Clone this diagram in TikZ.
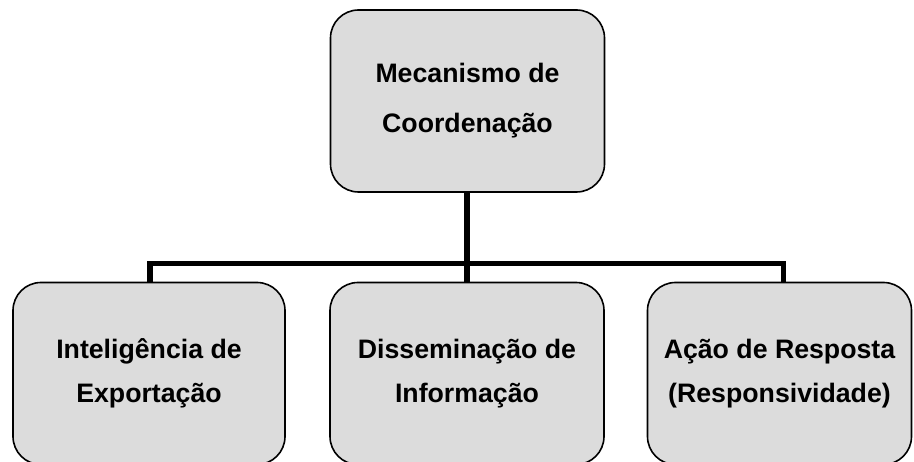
\documentclass[tikz,border=0pt]{standalone}
\usepackage{fontspec}
\setmainfont{Liberation Sans}
\usetikzlibrary{backgrounds}
\definecolor{boxfill}{RGB}{220,220,220}
\tikzset{
  box/.style={draw=black, line width=1.6pt, fill=boxfill, rounded corners=28pt,
    align=center, inner sep=0pt, font=\bfseries\fontsize{26.7}{44}\selectfont},
  conn/.style={line width=5.5pt, line cap=rect}
}
\begin{document}
\begin{tikzpicture}[x=1pt,y=-1pt]
\useasboundingbox (0,0) rectangle (914,462);
\clip (0,0) rectangle (914,462);
\coordinate (bus) at (467,263.5);
\node[box, minimum width=274pt, minimum height=182pt, font=\bfseries\fontsize{26.7}{50}\selectfont] (top) at (467.5,101) {Mecanismo de\\Coordenação};
\node[box, minimum width=272pt, minimum height=182pt] (left) at (149,373.5) {Inteligência de\\Exportação};
\node[box, minimum width=274pt, minimum height=182pt] (mid) at (467,373.5) {Disseminação de\\Informação};
\node[box, minimum width=264pt, minimum height=182pt] (right) at (779.5,373.5) {Ação de Resposta\\(Responsividade)};
\begin{scope}[on background layer]
\draw[conn] ([xshift=1pt]left.north) -- ([xshift=1pt]left.north |- bus) -- ([xshift=4pt]right.north |- bus) -- ([xshift=4pt]right.north);
\draw[conn] (top.south -| bus) -- (mid.north -| bus);
\end{scope}
\end{tikzpicture}
\end{document}
